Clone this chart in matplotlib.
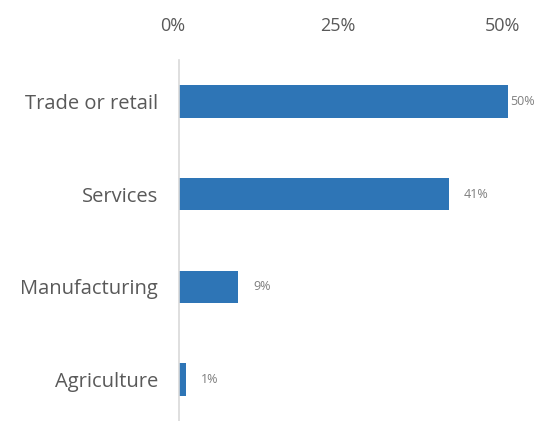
import matplotlib.pyplot as plt
from matplotlib.ticker import FuncFormatter
import matplotlib.transforms as mtransforms

sectors = ['Trade or retail', 'Services', 'Manufacturing', 'Agriculture']
shares = [50, 41, 9, 1]
ticks = [0, 25, 50]

plt.rcParams['font.family'] = ['Open Sans', 'DejaVu Sans']

fig = plt.figure(figsize=(5.36, 4.21), dpi=100)
ax = fig.add_axes([179 / 536, 0, 329 / 536, 361 / 421])

pos = list(range(len(sectors)))
ax.barh(pos, shares, height=0.35, color='#2e75b6')

ax.set_xlim(0, 50)
ax.set_ylim(3.45, -0.45)
ax.set_xticks(ticks)
ax.xaxis.set_major_formatter(FuncFormatter(lambda v, p: f'{v:.0f}%'))
ax.xaxis.tick_top()
ax.set_yticks(pos)
ax.set_yticklabels(sectors)
ax.tick_params(axis='x', length=0, pad=18, labelsize=13, labelcolor='#595959')
ax.tick_params(axis='y', length=0, pad=15, labelsize=14.5, labelcolor='#595959')

# nudge the top percentage labels a little to the left
shift = mtransforms.ScaledTranslation(-6 / 100, 0, fig.dpi_scale_trans)
for lbl in ax.get_xticklabels():
    lbl.set_transform(lbl.get_transform() + shift)

for s in ['top', 'right', 'bottom']:
    ax.spines[s].set_visible(False)
ax.spines['left'].set_color('#d9d9d9')
ax.spines['left'].set_linewidth(1.2)

# value labels next to each bar; the longest one sits right against its bar
for p, v in zip(pos, shares):
    off = 1.5 if v == max(shares) else 11
    ax.annotate(f'{v}%', (v, p), xytext=(off, 0), textcoords='offset points',
                va='center', ha='left', fontsize=9, color='#7f7f7f',
                annotation_clip=False)

fig.savefig('out.png', dpi=100)
